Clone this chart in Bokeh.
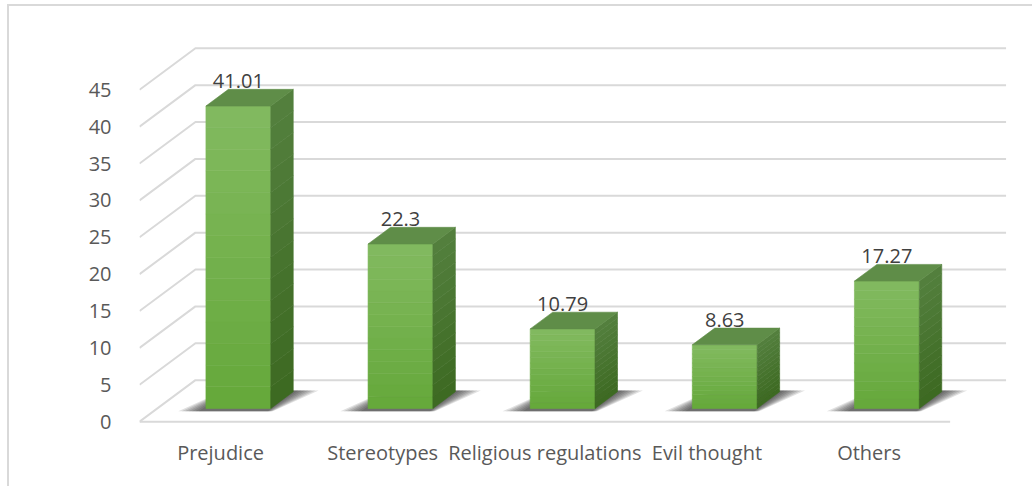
import numpy as np
from bokeh.plotting import figure
from bokeh.models import FixedTicker
from bokeh.core.properties import value
from bokeh.embed import file_html
from bokeh.resources import INLINE

# ---- data ----
categories = ["Prejudice", "Stereotypes", "Religious regulations", "Evil thought", "Others"]
values = [41.01, 22.3, 10.79, 8.63, 17.27]
value_labels = ["41.01", "22.3", "10.79", "8.63", "17.27"]
y_ticks = [0, 5, 10, 15, 20, 25, 30, 35, 40, 45]

# ---- 3D styling (oblique projection in data units) ----
N = len(categories)
DX = 0.345      # floor depth, category units
DY = 5.63       # floor depth, value units
F1, F2 = 0.318, 0.72   # bar depth span (fraction of floor depth)
BAR_W = 0.40
K = 14          # gradient bands

FONT = value("Open Sans")

# chart area border via CSS on the plot element (offset 7px left, 4px top)
OFF_L, OFF_T, BW = 7, 4, 2
p = figure(width=1034 - OFF_L - BW, height=488 - OFF_T - BW,
           x_range=(0, 5.36), y_range=(-1.2, 54.4),
           output_backend="svg", toolbar_location=None,
           min_border_left=139 - OFF_L - BW, min_border_right=26,
           min_border_top=20 - OFF_T - BW, min_border_bottom=58,
           styles={"margin-left": "%dpx" % OFF_L, "margin-top": "%dpx" % OFF_T,
                   "border-left": "%dpx solid #d9d9d9" % BW,
                   "border-top": "%dpx solid #d9d9d9" % BW})
p.xgrid.visible = False
p.ygrid.visible = False
p.outline_line_color = None
p.background_fill_color = "white"
p.border_fill_color = "white"

# gridlines: left wall diagonal + back wall horizontal
gx, gy = [], []
for t in y_ticks:
    gx.append([0, DX, N + DX])
    gy.append([t, t + DY, t + DY])
gx.append([0, N])
gy.append([0, 0])
p.multi_line(gx, gy, line_color="#d9d9d9", line_width=2)

def lerp(c1, c2, t):
    return "#%02x%02x%02x" % tuple(int(round(a + (b - a) * t)) for a, b in zip(c1, c2))

front_top, front_bot = (130, 186, 96), (101, 168, 58)
side_top, side_bot = (84, 128, 62), (60, 105, 33)
top_col = "#5f8d48"

bdx = (F2 - F1) * DX
bdy = (F2 - F1) * DY

# soft shadows on the floor (layered)
for i, v in enumerate(values):
    xl = i + 0.5 - BAR_W / 2
    xr = xl + BAR_W
    d0 = F1 - 0.07
    d1 = F2 + 0.03
    for layer in range(7):
        e = 0.02 + 0.021 * layer
        xs = [xl - e + d0 * DX, xr + e * 0.25 + d0 * DX,
              xr + e + d1 * DX, xl - e * 0.25 + d1 * DX]
        ys = [d0 * DY, d0 * DY, d1 * DY, d1 * DY]
        p.patch(xs, ys, fill_color="#1a1a1a", fill_alpha=0.13, line_color=None)

for i, v in enumerate(values):
    xl = i + 0.5 - BAR_W / 2 + F1 * DX
    xr = xl + BAR_W
    base = F1 * DY
    # front face gradient bands
    lefts, rights, bots, tops, cols = [], [], [], [], []
    for k in range(K):
        b0 = base + v * k / K
        b1 = base + v * (k + 1) / K
        lefts.append(xl); rights.append(xr); bots.append(b0); tops.append(b1)
        cols.append(lerp(front_bot, front_top, (k + 0.5) / K))
    p.quad(left=lefts, right=rights, bottom=bots, top=tops, fill_color=cols,
           line_color=cols, line_width=0.6)
    # side face gradient bands
    sxs, sys_, scols = [], [], []
    for k in range(K):
        b0 = base + v * k / K
        b1 = base + v * (k + 1) / K
        sxs.append([xr, xr + bdx, xr + bdx, xr])
        sys_.append([b0, b0 + bdy, b1 + bdy, b1])
        scols.append(lerp(side_bot, side_top, (k + 0.5) / K))
    p.patches(sxs, sys_, fill_color=scols, line_color=scols, line_width=0.6)
    # top face
    top = base + v
    p.patch([xl, xr, xr + bdx, xl + bdx], [top, top, top + bdy, top + bdy],
            fill_color=top_col, line_color=top_col, line_width=0.6)

# data labels
cx = [i + 0.5 + F1 * DX for i in range(N)]
ly = [v + F2 * DY for v in values]
p.text(x=cx, y=ly, text=value_labels, text_align="center", text_baseline="alphabetic",
       y_offset=-8, text_font=FONT, text_font_size="20px", text_color="#404040")

# axes
p.yaxis.ticker = FixedTicker(ticks=y_ticks)
p.yaxis.axis_line_color = None
p.yaxis.major_tick_line_color = None
p.yaxis.minor_tick_line_color = None
p.yaxis.major_label_standoff = 22
p.yaxis.major_label_text_font = "Open Sans"
p.yaxis.major_label_text_font_size = "20px"
p.yaxis.major_label_text_color = "#595959"

centers = [i + 0.5 for i in range(N)]
p.xaxis.ticker = FixedTicker(ticks=centers)
p.xaxis.major_label_overrides = {c: lab for c, lab in zip(centers, categories)}
p.xaxis.axis_line_color = None
p.xaxis.major_tick_line_color = None
p.xaxis.minor_tick_line_color = None
p.xaxis.major_label_standoff = 2
p.xaxis.major_label_text_font = "Open Sans"
p.xaxis.major_label_text_font_size = "20px"
p.xaxis.major_label_text_color = "#595959"

open("out.html", "w").write(file_html(p, INLINE))
